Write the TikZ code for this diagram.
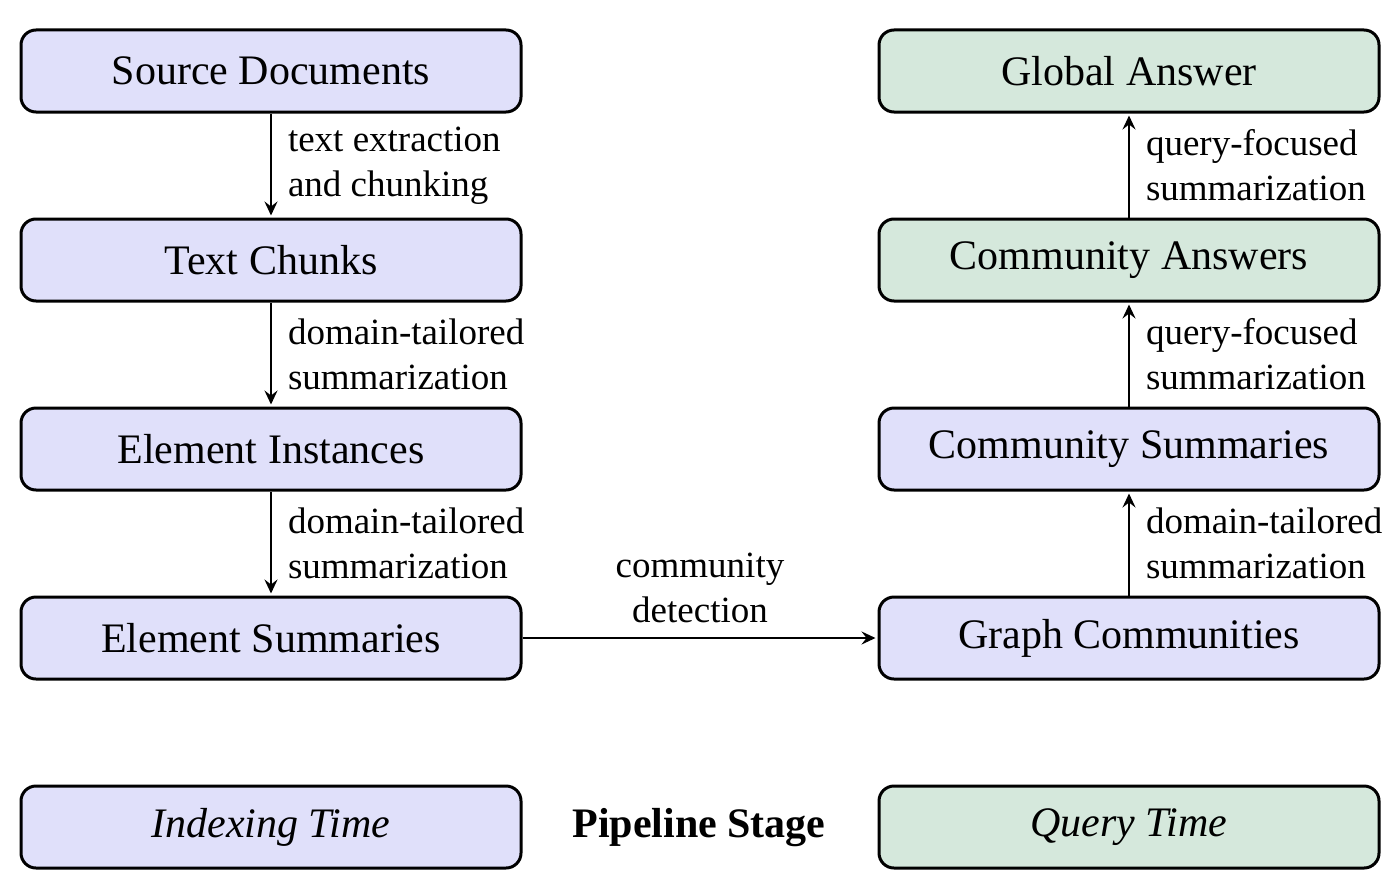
\documentclass[tikz,border=0pt]{standalone}
\usepackage{fontspec}
\setmainfont{Liberation Serif}
\usetikzlibrary{arrows.meta}
\definecolor{idxblue}{RGB}{224,224,250}
\definecolor{qgreen}{RGB}{213,232,220}
\begin{document}
\begin{tikzpicture}[x=0.5pt,y=-0.5pt,
  box/.style={draw, line width=1.5pt, rounded corners=7.5pt, minimum width=250pt, minimum height=41pt, inner sep=0pt, font=\fontsize{21}{24}\selectfont},
  ibox/.style={box, fill=idxblue},
  qbox/.style={box, fill=qgreen},
  flow/.style={-{Stealth[length=7pt,width=6.5pt,inset=2.5pt]}, line width=1pt, shorten >=1pt},
  lab/.style={font=\fontsize{18.5}{22.5}\selectfont, align=left, inner sep=0pt, anchor=west, xshift=8pt},
  hlab/.style={font=\fontsize{18.5}{22.5}\selectfont, align=center, inner sep=0pt, anchor=south, yshift=7pt}
]
\useasboundingbox (0,0) rectangle (1400,883);
% left column
\node[ibox] (src) at (271,71) {Source Documents};
\node[ibox] (chk) at (271,260) {Text Chunks};
\node[ibox] (ein) at (271,449) {Element Instances};
\node[ibox] (esu) at (271,638) {Element Summaries};
% right column
\node[qbox] (ga) at (1129,71) {Global Answer};
\node[qbox] (ca) at (1129,260) {Community Answers};
\node[ibox] (cs) at (1129,449) {Community Summaries};
\node[ibox] (gc) at (1129,638) {Graph Communities};
% legend
\node[ibox] (it) at (271,827) {\itshape Indexing Time};
\node[qbox] (qt) at (1129,827) {\itshape Query Time};
\node[font=\fontsize{21}{24}\selectfont\bfseries] (ps) at (699,828) {Pipeline Stage};
% connectors
\draw[flow] (src) -- node[lab] {text extraction\\and chunking} (chk);
\draw[flow] (chk) -- node[lab] {domain-tailored\\summarization} (ein);
\draw[flow] (ein) -- node[lab] {domain-tailored\\summarization} (esu);
\draw[flow] (esu) -- node[hlab] {community\\detection} (gc);
\draw[flow] (gc) -- node[lab] {domain-tailored\\summarization} (cs);
\draw[flow] (cs) -- node[lab] {query-focused\\summarization} (ca);
\draw[flow] (ca) -- node[lab] {query-focused\\summarization} (ga);
\end{tikzpicture}
\end{document}
